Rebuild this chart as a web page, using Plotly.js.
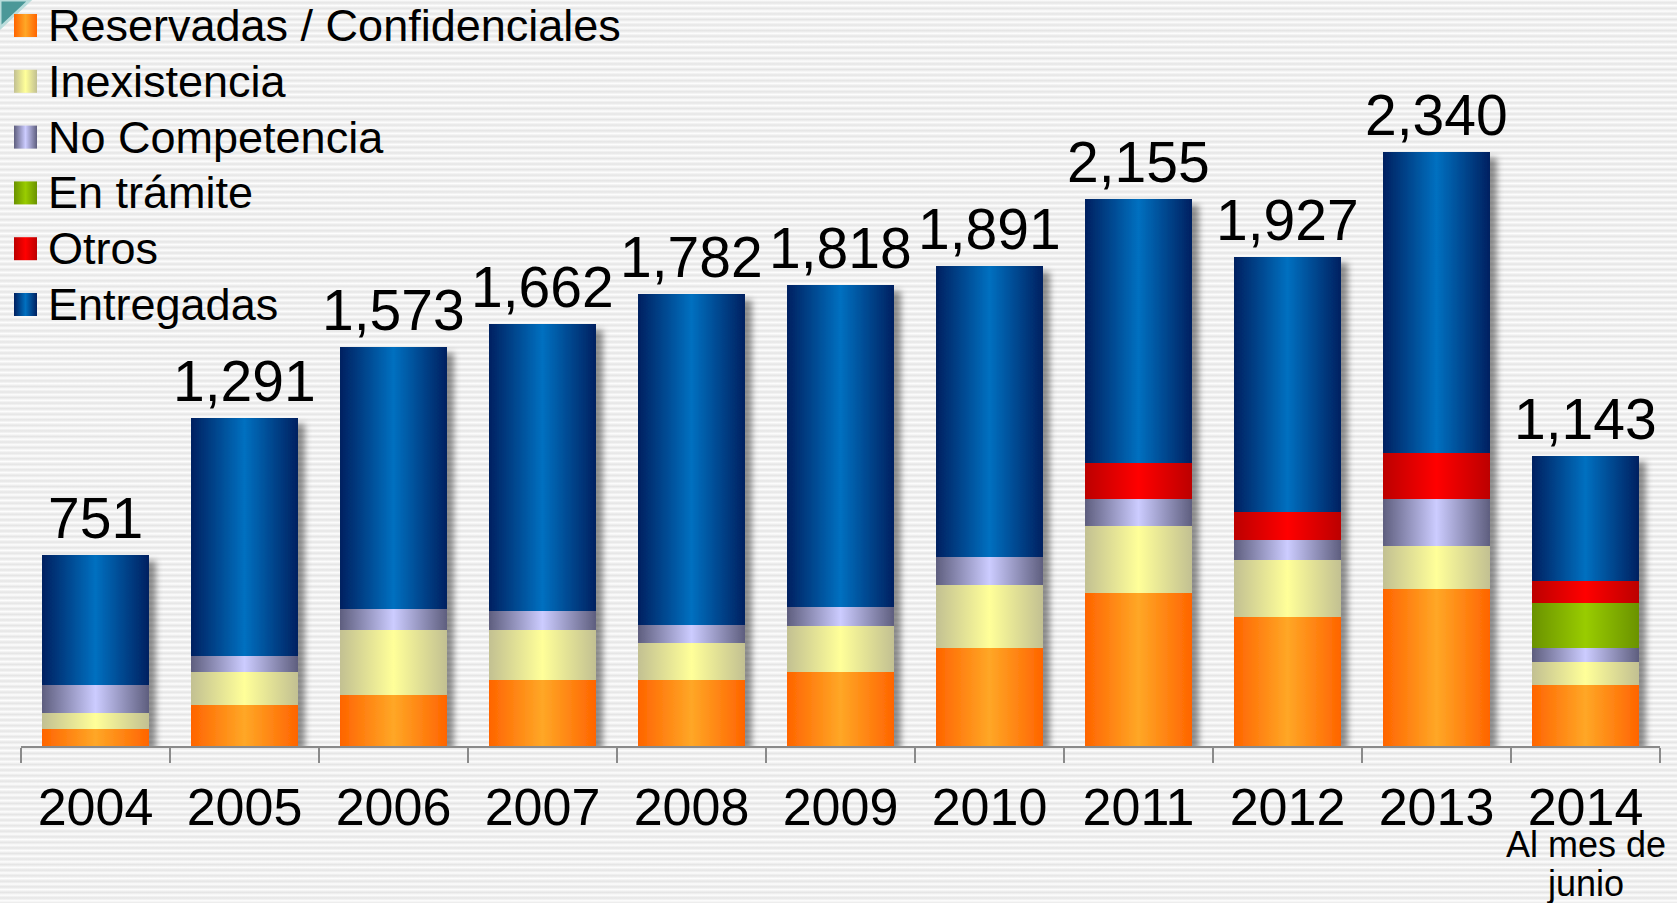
<!DOCTYPE html>
<html>
<head>
<meta charset="utf-8">
<script src="https://cdn.plot.ly/plotly-3.0.1.min.js"></script>
<style>
  html, body {
    margin: 0; padding: 0; width: 1677px; height: 903px; overflow: hidden;
    background: repeating-linear-gradient(180deg,
      #fdfdfd 0px, #f0f0f0 1.4px, #e5e5e5 2.8px, #f0f0f0 4.2px, #fdfdfd 5.56px);
  }
  #chart { width: 1677px; height: 903px; }
</style>
</head>
<body>
<div id="chart"></div>
<script>
// Solicitudes de información por año, según el tipo de respuesta
const years = ['2004', '2005', '2006', '2007', '2008', '2009', '2010', '2011', '2012', '2013', '2014'];

const reservadas    = [68, 162, 201, 260, 261, 293, 387, 604, 508, 619, 240];
const inexistencia  = [63, 130, 255, 197, 143, 181, 249, 263, 224, 170, 91];
const noCompetencia = [110, 63, 82, 76, 71, 75, 107, 105, 78, 183, 55];
const enTramite     = [0, 0, 0, 0, 0, 0, 0, 0, 0, 0, 176];
const otros         = [0, 0, 0, 0, 0, 0, 0, 144, 111, 183, 87];
const entregadas    = [510, 936, 1035, 1129, 1307, 1269, 1148, 1039, 1006, 1185, 494];

const seriesNames = ['Reservadas / Confidenciales', 'Inexistencia', 'No Competencia', 'En trámite', 'Otros', 'Entregadas'];
const seriesValues = [reservadas, inexistencia, noCompetencia, enTramite, otros, entregadas];
// edge colour, centre colour of each cylinder-like fill
const seriesShades = [
  ['#FF6400', '#FFA726'],
  ['#C2C092', '#FFFF99'],
  ['#5E5E7E', '#CCCCFF'],
  ['#6A9200', '#99CC00'],
  ['#BC0000', '#FF0000'],
  ['#002060', '#0070C0']
];
const lastYearNote = ['Al mes de', 'junio'];

const FONT = 'Liberation Sans, Arial, sans-serif';

// page geometry
const W = 1677, H = 903;
const M = { l: 21, r: 17, t: 6, b: 157 };
const plotW = W - M.l - M.r, plotH = H - M.t - M.b;
const px2x = p => (p - M.l) / plotW;
const px2y = p => (H - M.b - p) / plotH;

const totals = years.map((_, i) => seriesValues.reduce((s, arr) => s + arr[i], 0));

const traces = seriesNames.map((name, k) => ({
  type: 'bar',
  name: name,
  x: years,
  y: seriesValues[k],
  marker: { color: seriesShades[k][1], line: { width: 0 } },
  hoverinfo: 'x+y+name',
  showlegend: false
}));

const annotations = [];
// totals above each stack (x given as category index)
years.forEach((yr, i) => {
  annotations.push({
    x: i, y: totals[i], xref: 'x', yref: 'y',
    text: totals[i].toLocaleString('en-US'),
    showarrow: false, yanchor: 'bottom', yshift: 3,
    font: { family: FONT, size: 57, color: '#000' }
  });
});
// note under the last year
const lastIdx = years.length - 1;
annotations.push({
  x: lastIdx, xref: 'x', y: px2y(844), yref: 'paper',
  text: lastYearNote[0], showarrow: false, yanchor: 'middle',
  font: { family: FONT, size: 36, color: '#000' }
});
annotations.push({
  x: lastIdx, xref: 'x', y: px2y(883), yref: 'paper',
  text: lastYearNote[1], showarrow: false, yanchor: 'middle',
  font: { family: FONT, size: 36, color: '#000' }
});

// hand-built legend: square swatch + label per series
const shapes = [];
shapes.push({
  type: 'path', xref: 'paper', yref: 'paper', layer: 'above',
  path: `M${px2x(0)},${px2y(0)} L${px2x(30)},${px2y(0)} L${px2x(0)},${px2y(28)} Z`,
  fillcolor: '#4b9898', line: { color: '#b9dcdb', width: 3 }
});
const legendTop = 25.5, legendStep = 55.8, swatch = 23;
seriesNames.forEach((name, k) => {
  const cy = legendTop + legendStep * k;
  shapes.push({
    type: 'rect', xref: 'paper', yref: 'paper', layer: 'above',
    x0: px2x(14), x1: px2x(14 + swatch),
    y0: px2y(cy - swatch / 2), y1: px2y(cy + swatch / 2),
    fillcolor: seriesShades[k][1], line: { width: 0 }
  });
  annotations.push({
    x: px2x(46), y: px2y(cy), xref: 'paper', yref: 'paper',
    xanchor: 'left', yanchor: 'middle', showarrow: false,
    text: name,
    font: { family: FONT, size: 45, color: '#000' }
  });
});

const layout = {
  width: W, height: H,
  margin: M,
  barmode: 'stack',
  bargap: 0.28,
  paper_bgcolor: 'rgba(0,0,0,0)',
  plot_bgcolor: 'rgba(0,0,0,0)',
  showlegend: false,
  xaxis: {
    type: 'category',
    range: [-0.5, years.length - 0.5],
    showline: true, linecolor: '#8a8a8a', linewidth: 2,
    ticks: 'outside', tickson: 'boundaries', ticklen: 15, tickwidth: 1.5, tickcolor: '#8a8a8a',
    ticklabelstandoff: 15,
    tickfont: { family: FONT, size: 52, color: '#000' },
    showgrid: false, zeroline: false, fixedrange: true
  },
  yaxis: {
    range: [0, plotH / 0.2538],
    visible: false, showgrid: false, zeroline: false, fixedrange: true
  },
  annotations: annotations,
  shapes: shapes
};

Plotly.newPlot('chart', traces, layout, { displayModeBar: false, responsive: false }).then(gd => {
  const NS = 'http://www.w3.org/2000/svg';
  const svg = gd.querySelector('svg.main-svg');
  let defs = svg.querySelector('defs');
  if (!defs) { defs = document.createElementNS(NS, 'defs'); svg.insertBefore(defs, svg.firstChild); }

  seriesShades.forEach((pair, k) => {
    const g = document.createElementNS(NS, 'linearGradient');
    g.setAttribute('id', 'shade-' + k);
    g.setAttribute('x1', '0'); g.setAttribute('x2', '1');
    g.setAttribute('y1', '0'); g.setAttribute('y2', '0');
    [[0, pair[0]], [0.5, pair[1]], [1, pair[0]]].forEach(([o, c]) => {
      const s = document.createElementNS(NS, 'stop');
      s.setAttribute('offset', o);
      s.setAttribute('stop-color', c);
      g.appendChild(s);
    });
    defs.appendChild(g);
  });

  const f = document.createElementNS(NS, 'filter');
  f.setAttribute('id', 'stack-shadow');
  f.setAttribute('x', '-5%'); f.setAttribute('y', '-5%');
  f.setAttribute('width', '115%'); f.setAttribute('height', '115%');
  const ds = document.createElementNS(NS, 'feDropShadow');
  ds.setAttribute('dx', '7'); ds.setAttribute('dy', '6');
  ds.setAttribute('stdDeviation', '3');
  ds.setAttribute('flood-color', '#000'); ds.setAttribute('flood-opacity', '0.42');
  f.appendChild(ds);
  defs.appendChild(f);

  gd.querySelectorAll('g.barlayer g.trace').forEach((g, k) => {
    g.querySelectorAll('path').forEach(p => { p.style.fill = `url(#shade-${k})`; });
  });
  const bl = gd.querySelector('g.barlayer');
  if (bl) bl.setAttribute('filter', 'url(#stack-shadow)');

  seriesNames.forEach((_, k) => {
    const p = gd.querySelector(`.shapelayer path[data-index="${k + 1}"]`);
    if (p) p.style.fill = `url(#shade-${k})`;
  });
});
</script>
</body>
</html>
